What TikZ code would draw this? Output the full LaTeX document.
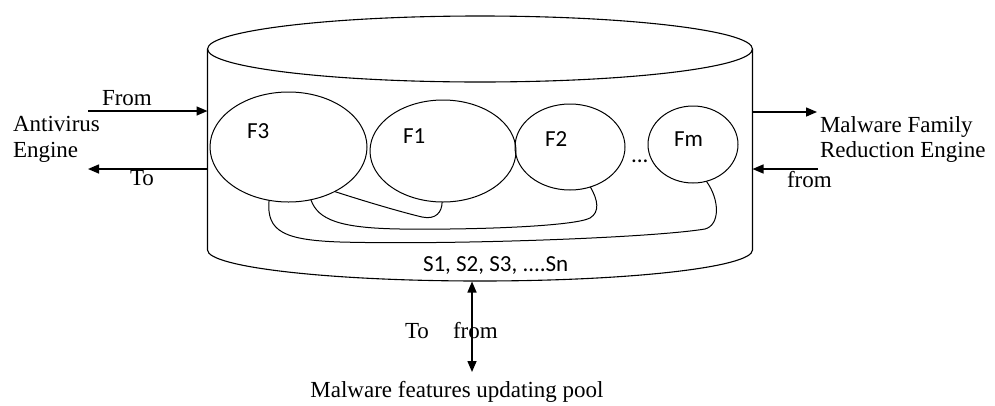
\documentclass[tikz,border=0pt]{standalone}
\usepackage{fontspec}
\setmainfont{Liberation Serif}
\newfontfamily\calib{Carlito}
\usetikzlibrary{arrows.meta,shapes.geometric}
\begin{document}
\begin{tikzpicture}[x=1pt,y=-1pt,
  every node/.style={inner sep=0pt, outer sep=0pt},
  lbl/.style={font=\fontsize{23}{25.5}\selectfont},
  flbl/.style={font=\calib\fontsize{23}{25}\selectfont},
  fam/.style={draw, ellipse, line width=1pt},
  link/.style={line width=1pt},
  shell/.style={line width=1.1pt},
  tip/.style={-{Triangle[length=11pt,width=9pt]}},
  flow/.style={line width=1.5pt, tip},
  dflow/.style={line width=1.5pt, {Triangle[length=11pt,width=9pt]}-{Triangle[length=11pt,width=9pt]}},
]
\useasboundingbox (0,0) rectangle (995,405);

% database cylinder
\draw[shell] (480,49) ellipse [x radius=272.5pt, y radius=33pt];
\draw[shell] (207.5,49) -- (207.5,250) arc[start angle=180, end angle=360, x radius=272.5pt, y radius=31pt] -- (752.5,49);

% family ellipses
\node[fam, minimum width=157pt, minimum height=110pt] (F3) at (288.5,147) {};
\node[fam, minimum width=146pt, minimum height=102pt] (F1) at (443,151) {};
\node[fam, minimum width=110pt, minimum height=86pt] (F2) at (570,147) {};
\node[fam, minimum width=90pt, minimum height=77pt] (Fm) at (693,144.5) {};

\node[flbl, anchor=base west] (F3l) at (247,138) {F3};
\node[flbl, anchor=base west] (F1l) at (403,143) {F1};
\node[flbl, anchor=base west] (F2l) at (545,146) {F2};
\node[flbl, anchor=base west] (Fml) at (674,146) {Fm};
\node[flbl, anchor=base west] (dots) at (631,162) {...};

% links between families
\draw[link] (F3.316) .. controls (370,203) and (405,213) .. (422,217) .. controls (436,220) and (442,212) .. (F1.269);
\draw[link] (F3.293) .. controls (318,220) and (340,228) .. (400,229) .. controls (480,230) and (575,226) .. (590,218) .. controls (600,212) and (598,200) .. (F2.297);
\draw[link] (F3.250) .. controls (266,232) and (285,240) .. (340,242) .. controls (450,245) and (650,238) .. (705,229) .. controls (720,225) and (720,200) .. (Fm.290);

\node[flbl, anchor=base west] (slist) at (423,271) {S1, S2, S3, ....Sn};

% left side
\node[lbl, anchor=base west] (from1) at (102,105) {From};
\node[lbl, anchor=west, align=left] (av) at (13,139.5) {Antivirus\\Engine};
\node[lbl, anchor=base west] (to1) at (130,185) {To};
\coordinate (avIn) at (88,111);
\coordinate (wallL1) at (207.5,111);
\coordinate (wallL2) at (207.5,169);
\coordinate (avOut) at (88,169);
\draw[flow] (avIn) -- (wallL1);
\draw[flow] (wallL2) -- (avOut);

% right side
\node[lbl, anchor=west, align=left] (mfr) at (820,139.5) {Malware Family\\Reduction Engine};
\node[lbl, anchor=base west] (from2) at (787,187) {from};
\coordinate (wallR1) at (752.5,112);
\coordinate (mfrIn) at (817,112);
\coordinate (mfrOut) at (818,169);
\coordinate (wallR2) at (752.5,169);
\draw[flow] (wallR1) -- (mfrIn);
\draw[flow] (mfrOut) -- (wallR2);

% bottom
\node[lbl, anchor=base west] (to2) at (405,338) {To};
\node[lbl, anchor=base west] (from3) at (453,338) {from};
\node[lbl, anchor=base] (pool) at (457,397) {Malware features updating pool};
\coordinate (cylBot) at (472,281.5);
\coordinate (poolTop) at (472,372);
\draw[dflow] (cylBot) -- (poolTop);
\end{tikzpicture}
\end{document}
